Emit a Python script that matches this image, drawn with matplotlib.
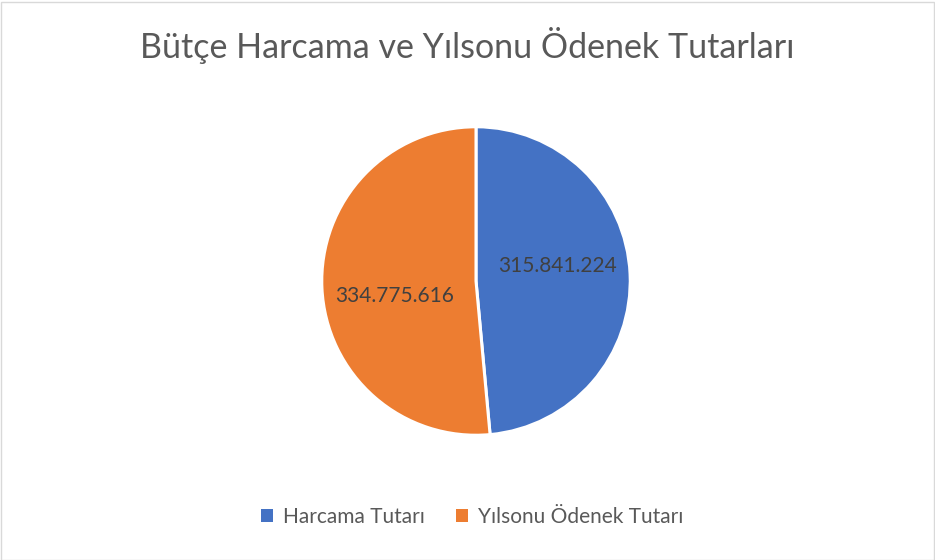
import numpy as np
import matplotlib.pyplot as plt
from matplotlib.patches import Patch, Rectangle

plt.rcParams['font.family'] = ['Lato', 'DejaVu Sans']

# data
labels = ["Harcama Tutarı", "Yılsonu Ödenek Tutarı"]
values = [315841224, 334775616]
colors = ["#4472C4", "#ED7D31"]
title = "Bütçe Harcama ve Yılsonu Ödenek Tutarları"

W, H = 935, 560
fig = plt.figure(figsize=(W / 100, H / 100), dpi=100)

# pie centred at (476, 281) px, radius 155 px
cx, cy, r = 476, 281, 155
ax = fig.add_axes([(cx - r) / W, (H - cy - r) / H, 2 * r / W, 2 * r / H])

value_iter = iter(values)


def fmt(pct):
    # show the raw value with dots as thousands separator (avoid float rounding)
    v = next(value_iter)
    return f"{v:,}".replace(",", ".")


wedges, texts, autotexts = ax.pie(values, colors=colors, startangle=90, counterclock=False,
                                  autopct=fmt, pctdistance=0.54, radius=1,
                                  wedgeprops=dict(edgecolor="white", linewidth=2.2))
# excel puts the labels a bit rotated from the wedge middle
rot = np.deg2rad(8)
for t in autotexts:
    x, y = t.get_position()
    t.set_position((x * np.cos(rot) - y * np.sin(rot), x * np.sin(rot) + y * np.cos(rot)))
    t.set_color("#404040")
    t.set_fontsize(15)
ax.set_xlim(-1.005, 1.005)
ax.set_ylim(-1.005, 1.005)
ax.axis("off")

fig.text(0.5, 1 - 45 / H, title, ha="center", va="center", fontsize=24.5, color="#595959")

handles = [Patch(facecolor=c, edgecolor="none") for c in colors]
fig.legend(handles, labels, loc="center", bbox_to_anchor=(0.505, 1 - 517 / H), ncol=2,
           frameon=False, fontsize=15, labelcolor="#595959", handlelength=0.55, handleheight=0.55,
           handletextpad=0.5, columnspacing=1.5)

# light frame around the chart area
fig.patches.append(Rectangle((0.5 / W, 0.5 / H), 1 - 2 / W, 1 - 2 / H, transform=fig.transFigure,
                             fill=False, edgecolor="#D9D9D9", linewidth=1))

fig.savefig("out.png", dpi=100, facecolor="white")
